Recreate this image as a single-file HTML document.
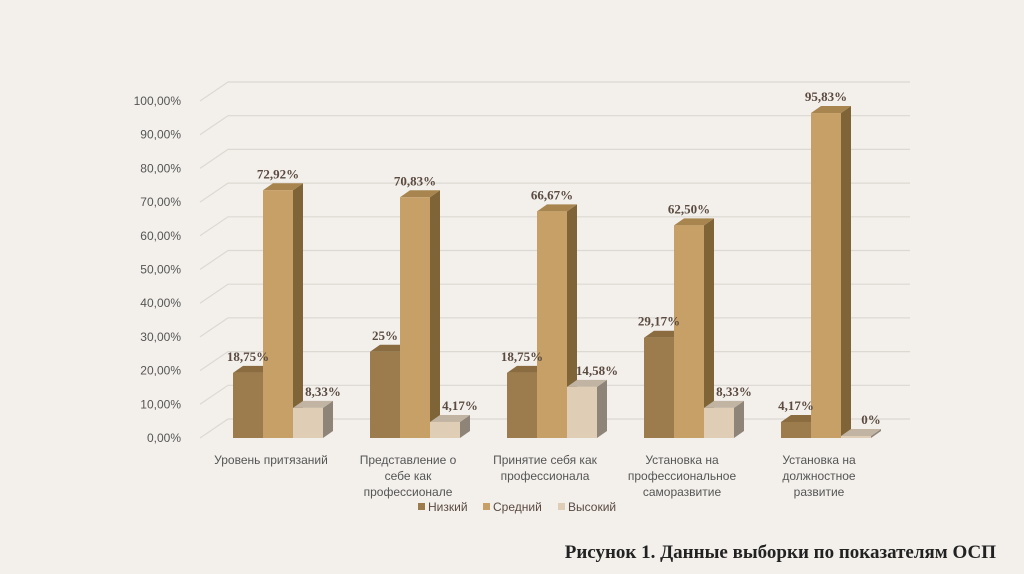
<!DOCTYPE html>
<html><head><meta charset="utf-8"><style>
body{margin:0;background:#f3f0ec;}
svg{display:block;}
</style></head><body>
<svg id="c" width="1024" height="574" font-family="Liberation Sans, sans-serif">
<rect width="1024" height="574" fill="#f3f0ec"/>
<g id="grid"></g><g id="bars"></g><g id="labels"></g>
<g font-size="12" fill="#5a4a40">
<rect x="418" y="503" width="7" height="7" fill="#9c7c4c"/>
<text x="428" y="511">Низкий</text>
<rect x="483" y="503" width="7" height="7" fill="#c6a066"/>
<text x="493" y="511">Средний</text>
<rect x="558" y="503" width="7" height="7" fill="#dfcdb5"/>
<text x="568" y="511">Высокий</text>
</g>
<text x="996" y="558" text-anchor="end" font-family="Liberation Serif, serif" font-weight="bold" font-size="19" fill="#222">Рисунок 1. Данные выборки по показателям ОСП</text>
</svg>
<script>
const categories=[["Уровень притязаний"],["Представление о","себе как","профессионале"],["Принятие себя как","профессионала"],["Установка на","профессиональное","саморазвитие"],["Установка на","должностное","развитие"]];
const low=[18.75,25,18.75,29.17,4.17];
const mid=[72.92,70.83,66.67,62.50,95.83];
const high=[8.33,4.17,14.58,8.33,0];
const lowLabels=["18,75%","25%","18,75%","29,17%","4,17%"];
const midLabels=["72,92%","70,83%","66,67%","62,50%","95,83%"];
const highLabels=["8,33%","4,17%","14,58%","8,33%","0%"];
const ticks=[0,10,20,30,40,50,60,70,80,90,100];
const tickLabels=["0,00%","10,00%","20,00%","30,00%","40,00%","50,00%","60,00%","70,00%","80,00%","90,00%","100,00%"];
const NS="http://www.w3.org/2000/svg";
const y0=438,k=3.37,DX=28,DY=-19;
const yS=v=>y0-v*k;
const gx=i=>233+i*137;
function mk(tag,attrs,parent){const e=document.createElementNS(NS,tag);for(const a in attrs)e.setAttribute(a,attrs[a]);parent.appendChild(e);return e;}
const G=document.getElementById('grid'),B=document.getElementById('bars'),L=document.getElementById('labels');
ticks.forEach((t,i)=>{const y=yS(t);
 const p=mk('polyline',{points:`200,${y} ${200+DX},${y+DY} 910,${y+DY}`,fill:'none',stroke:'#dcd8d2','stroke-width':1.2},G);
 
 const tx=mk('text',{x:181,y:y+4,'text-anchor':'end','font-size':12,fill:'#555'},G);tx.textContent=tickLabels[i];
 
});
const series=[[low,lowLabels,'#9c7c4c','#8a6c40','#6f5633'],[mid,midLabels,'#c6a066','#a8854f','#7f6438'],[high,highLabels,'#dfcdb5','#c2b4a2','#8f8478']];
const W=30,bd=10,bdy=-7;
categories.forEach((c,i)=>{
 series.forEach((s,j)=>{const v=s[0][i];const x=gx(i)+j*W,yt=yS(v)-2;
  const g=mk('g',{},B);
  mk('polygon',{points:`${x+W},${y0} ${x+W+bd},${y0+bdy} ${x+W+bd},${yt+bdy} ${x+W},${yt}`,fill:s[4]},g);
  mk('polygon',{points:`${x},${yt} ${x+bd},${yt+bdy} ${x+W+bd},${yt+bdy} ${x+W},${yt}`,fill:s[3]},g);
  mk('rect',{x:x,y:yt,width:W,height:Math.max(0,y0-yt),fill:s[2]},g);
  const t=mk('text',{x:x+W/2+(j==2?15:0),y:yt-12,'text-anchor':'middle','font-size':13,'font-weight':'bold','font-family':'Liberation Serif, serif',fill:'#5a4a40'},L);
  t.textContent=s[1][i];
 });
 const t=mk('text',{'text-anchor':'middle','font-size':12,fill:'#555'},L);
 
 c.forEach((line,n)=>{const ts=mk('tspan',{x:gx(i)+38,y:464+n*16},t);ts.textContent=line;});
});
</script>
</body></html>
